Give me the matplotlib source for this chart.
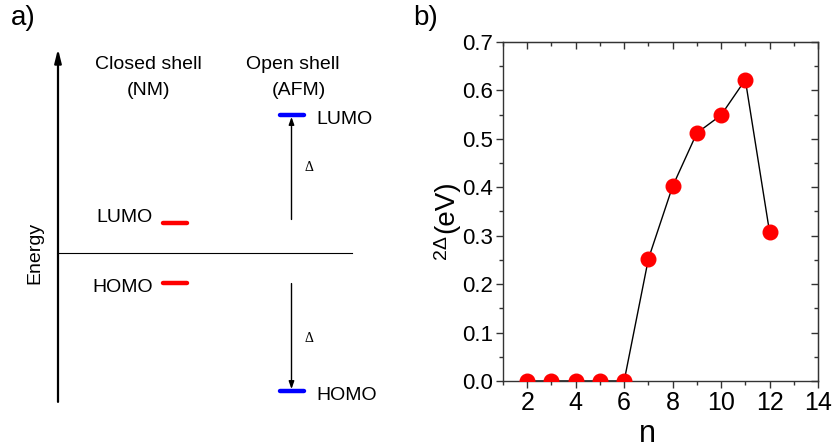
import matplotlib.pyplot as plt
from matplotlib.ticker import MultipleLocator

plt.rcParams['font.family'] = ['Liberation Sans', 'DejaVu Sans']

W, H = 833, 448

# b) gap against ribbon width n
n_values = [2, 3, 4, 5, 6, 7, 8, 9, 10, 11, 12]
gap_ev = [0.0, 0.0, 0.0, 0.0, 0.0, 0.252, 0.402, 0.512, 0.549, 0.622, 0.308]
x_ticks = [2, 4, 6, 8, 10, 12, 14]
y_ticks = [0.0, 0.1, 0.2, 0.3, 0.4, 0.5, 0.6, 0.7]

# a) level scheme, energies relative to the midgap line
level_names = ['LUMO', 'HOMO']
closed_energy = [0.3, -0.3]
open_energy = [1.4, -1.4]


def fx(px):
    return px / W


def fy(py):
    return 1 - py / H


fig = plt.figure(figsize=(W / 100, H / 100), dpi=100)

# ---------------- panel a ----------------
scale = 98.6  # pixels per energy unit
mid = 253
ax_a = fig.add_axes([0, 0, 420 / W, 1])
ax_a.set_xlim(0, 420)
ax_a.set_ylim(-(H - mid) / scale, mid / scale)
ax_a.axis('off')

# energy axis
ax_a.annotate('', xy=(58, 2.07), xytext=(58, -1.51),
              arrowprops=dict(arrowstyle='-|>,head_length=0.8,head_width=0.2',
                              lw=1.6, color='black', shrinkA=0, shrinkB=0))
ax_a.text(35, 0, 'Energy', rotation=90, ha='center', va='center', fontsize=14)
ax_a.plot([58, 352], [0, 0], color='black', lw=0.8)

closed_x, open_x = 175, 292
for name, e in zip(level_names, closed_energy):
    ax_a.plot([closed_x - 12, closed_x + 12], [e, e], color='red', lw=3.2,
              solid_capstyle='round')
    ax_a.text(153, e + (0.06 if e > 0 else -0.05), name, ha='right', va='center',
              fontsize=14)
for name, e in zip(level_names, open_energy):
    ax_a.plot([open_x - 12, open_x + 12], [e, e], color='#0000ff', lw=3.2,
              solid_capstyle='round')
    ax_a.text(316, e - 0.045, name, ha='left', va='center', fontsize=14)

# gap arrows on the open-shell side
for e in open_energy:
    start = 0.34 if e > 0 else -0.31
    ax_a.annotate('', xy=(open_x - 0.5, e + (-0.02 if e > 0 else 0.02)),
                  xytext=(open_x - 0.5, start),
                  arrowprops=dict(arrowstyle='-|>,head_length=0.45,head_width=0.16',
                                  lw=1.0, color='black', shrinkA=0, shrinkB=0))
    ax_a.text(309, 0.62 * e, '\u0394', ha='center', va='center', fontsize=10,
              family='Liberation Serif')

ax_a.text(148, (mid - 64) / scale, 'Closed shell', ha='center', va='center', fontsize=14)
ax_a.text(148, (mid - 90) / scale, '(NM)', ha='center', va='center', fontsize=14)
ax_a.text(293, (mid - 64) / scale, 'Open shell', ha='center', va='center', fontsize=14)
ax_a.text(299, (mid - 90) / scale, '(AFM)', ha='center', va='center', fontsize=14)

# ---------------- panel b ----------------
ax_b = fig.add_axes([fx(503), fy(381), 315 / W, 339 / H])
ax_b.plot(n_values, gap_ev, color='black', lw=1.0, marker='o', ms=10.5,
          mfc='red', mec='red', zorder=3)
ax_b.set_xlim(1, 14)
ax_b.set_ylim(0, 0.7)
ax_b.set_xticks(x_ticks)
ax_b.set_yticks(y_ticks)
ax_b.set_yticklabels([f'{v:.1f}' for v in y_ticks])
ax_b.xaxis.set_minor_locator(MultipleLocator(1))
ax_b.yaxis.set_minor_locator(MultipleLocator(0.05))
for sp in ax_b.spines.values():
    sp.set_color('#333333')
    sp.set_linewidth(1.0)
ax_b.tick_params(which='both', direction='out', color='#333333', width=1.0)
ax_b.tick_params(which='major', length=5)
ax_b.tick_params(which='minor', length=3)
ax_b.tick_params(axis='x', labelsize=18, pad=2)
ax_b.tick_params(axis='y', labelsize=16, pad=2)

# inward ticks on the top and right edges
top = ax_b.secondary_xaxis('top')
top.set_xticks(x_ticks)
top.xaxis.set_minor_locator(MultipleLocator(1))
top.tick_params(which='both', direction='in', labeltop=False, color='#333333', width=1.0)
top.tick_params(which='major', length=5)
top.tick_params(which='minor', length=3)
top.spines['top'].set_color('#333333')
right = ax_b.secondary_yaxis('right')
right.set_yticks(y_ticks)
right.yaxis.set_minor_locator(MultipleLocator(0.05))
right.tick_params(which='both', direction='in', labelright=False, color='#333333', width=1.0)
right.tick_params(which='major', length=5)
right.tick_params(which='minor', length=3)
right.spines['right'].set_color('#333333')

fig.text(fx(647), fy(442), 'n', ha='center', va='baseline', fontsize=22)
fig.text(fx(453), fy(233), '(eV)', rotation=90, rotation_mode='anchor',
         ha='left', va='baseline', fontsize=20)
fig.text(fx(446), fy(235), '2\u0394', rotation=90, rotation_mode='anchor',
         ha='right', va='baseline', fontsize=14)

fig.text(fx(11), fy(25), 'a)', ha='left', va='baseline', fontsize=20)
fig.text(fx(413), fy(25), 'b)', ha='left', va='baseline', fontsize=20)

fig.savefig('out.png', dpi=100)
